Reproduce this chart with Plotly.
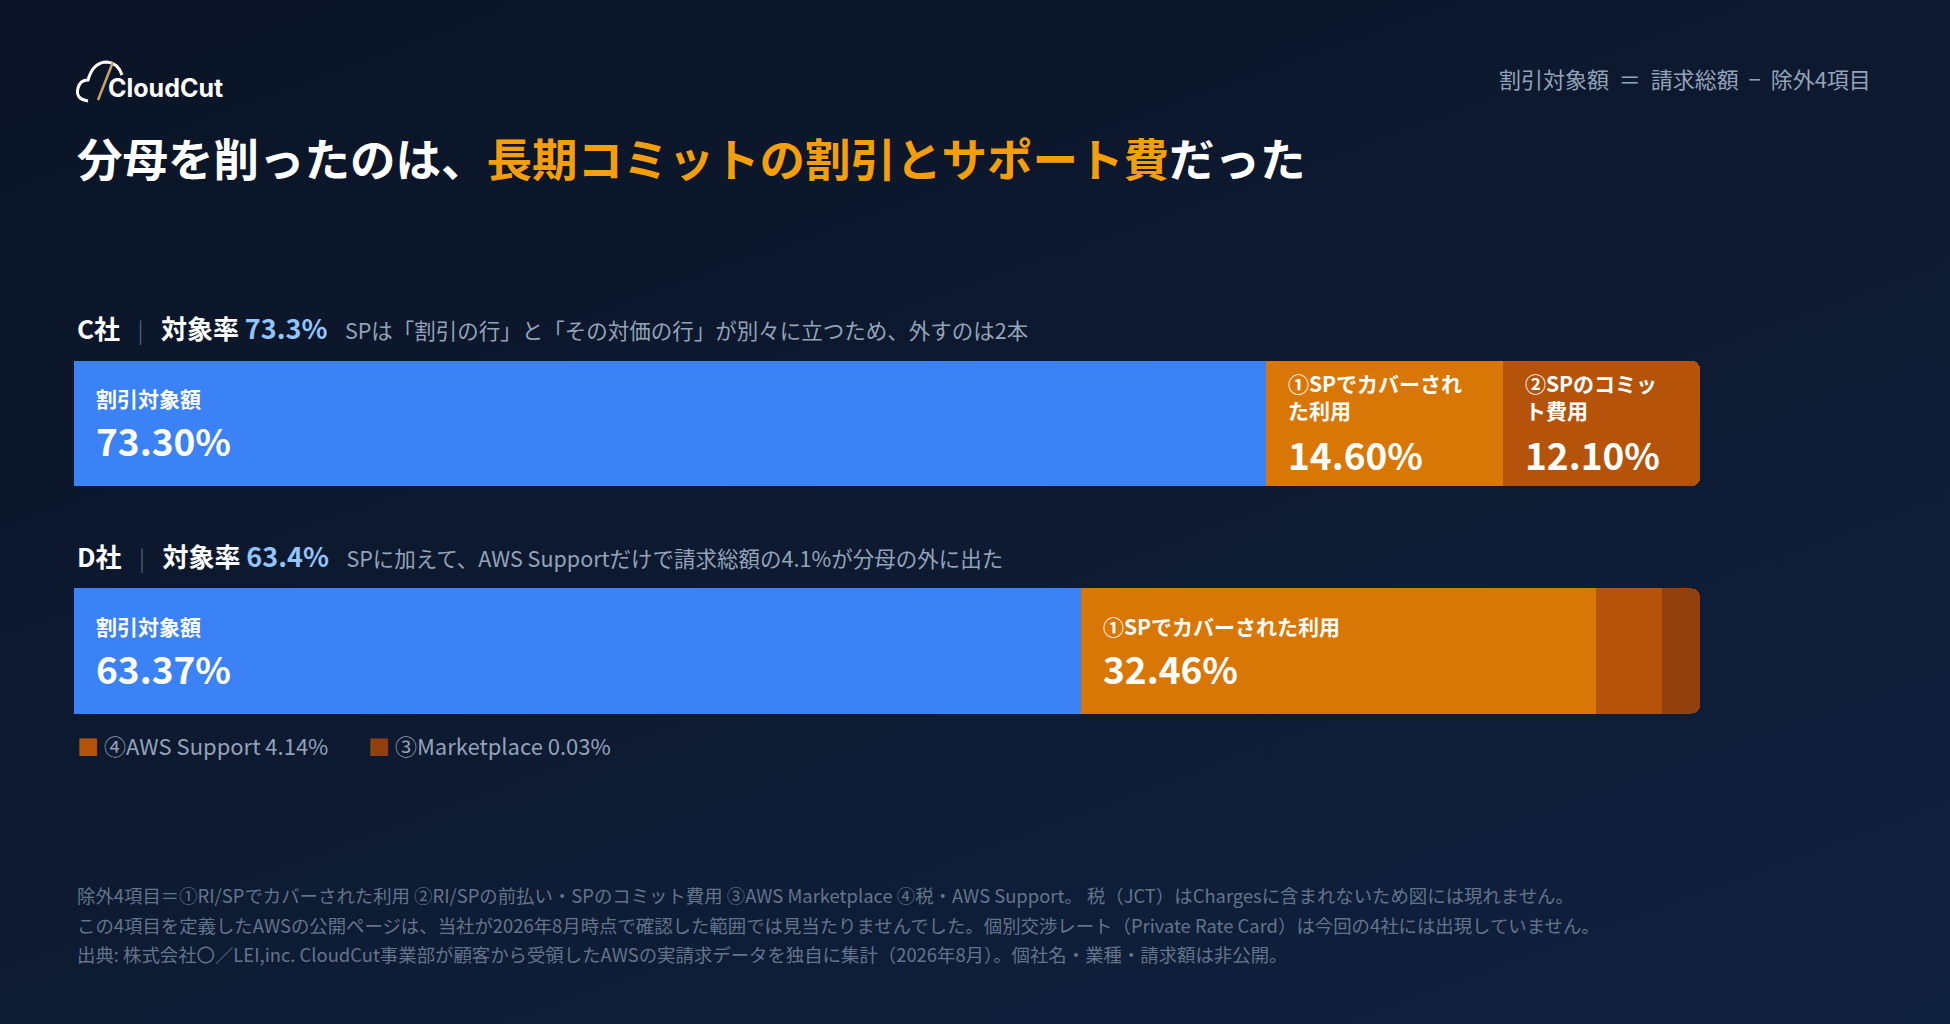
import numpy as np
import plotly.graph_objects as go

W, H = 1950, 1024

# データ
companies = ["C社", "D社"]
target_rate = [73.3, 63.4]
notes = [
    "SPは「割引の行」と「その対価の行」が別々に立つため、外すのは2本",
    "SPに加えて、AWS Supportだけで請求総額の4.1%が分母の外に出た",
]
c_labels = ["割引対象額", "①SPでカバーされ<br>た利用", "②SPのコミッ<br>ト費用"]
c_values = [73.30, 14.60, 12.10]
d_labels = ["割引対象額", "①SPでカバーされた利用", "④AWS Support", "③Marketplace"]
d_values = [63.37, 32.46, 4.14, 0.03]
legend_names = ["④AWS Support", "③Marketplace"]
legend_values = [4.14, 0.03]

seg_colors = ["#3b82f6", "#d97706", "#b45309", "#92400e"]
FONT = "Noto Sans CJK JP"

footnotes = [
    "除外4項目＝①RI/SPでカバーされた利用 ②RI/SPの前払い・SPのコミット費用 ③AWS Marketplace ④税・AWS Support。 税（JCT）はChargesに含まれないため図には現れません。",
    "この4項目を定義したAWSの公開ページは、当社が2026年8月時点で確認した範囲では見当たりませんでした。個別交渉レート（Private Rate Card）は今回の4社には出現していません。",
    "出典: 株式会社〇／LEI,inc. CloudCut事業部が顧客から受領したAWSの実請求データを独自に集計（2026年8月）。個社名・業種・請求額は非公開。",
]


def px(x, y):
    return x / W, 1 - y / H


def display_widths(vals, min_share=2.4):
    # 極小セグメントにも最小幅を持たせる（CSSのmin-width相当）
    v = np.maximum(np.array(vals, dtype=float), min_share)
    return v / v.sum() * 100


fig = go.Figure()

rows = [(c_labels, c_values), (d_labels, d_values)]
annotations = []
for row, (labels, vals) in enumerate(rows):
    widths = display_widths(vals)
    starts = np.concatenate([[0], np.cumsum(widths)[:-1]])
    for i, (lab, v, w, s) in enumerate(zip(labels, vals, widths, starts)):
        fig.add_trace(go.Bar(
            x=[w], y=[row], orientation="h", width=0.55,
            marker=dict(color=seg_colors[i], line=dict(width=0)),
            showlegend=False, hoverinfo="skip",
        ))
        if v < 10:
            continue
        two_line = "<br>" in lab
        annotations.append(dict(
            x=s, y=row, xref="x", yref="y", xanchor="left", yanchor="middle",
            xshift=20, yshift=27 if two_line else 25.5, align="left",
            text=f"<b>{lab}</b>", showarrow=False,
            font=dict(family=FONT, size=21, color="white"),
        ))
        annotations.append(dict(
            x=s, y=row, xref="x", yref="y", xanchor="left", yanchor="middle",
            xshift=20, yshift=-30.5 if two_line else -16.5,
            text=f"<b>{v:.2f}%</b>", showarrow=False,
            font=dict(family=FONT, size=37, color="white"),
        ))

# 各社の見出し
for row, (name, rate, note) in enumerate(zip(companies, target_rate, notes)):
    hx, hy = px(75, 327 + row * 228)
    annotations.append(dict(
        x=hx, y=hy, xref="paper", yref="paper", xanchor="left", yanchor="middle",
        showarrow=False, font=dict(family=FONT, size=26, color="white"),
        text=(f"<b>{name}</b>   <span style='color:#4b5a70;font-size:22px'>|</span>   "
              f"<b>対象率</b> <span style='color:#93c5fd;font-size:27px'><b>{rate:.1f}%</b></span>"
              f"   <span style='color:#94a3b8;font-size:21.5px'>{note}</span>"),
    ))

# 凡例（D社の小さいセグメント）
lx = [75, 366]
for i, (nm, v) in enumerate(zip(legend_names, legend_values)):
    x, y = px(lx[i], 745)
    annotations.append(dict(
        x=x, y=y, xref="paper", yref="paper", xanchor="left", yanchor="middle",
        showarrow=False, font=dict(family=FONT, size=22, color="#94a3b8"),
        text=f"<span style='color:{seg_colors[i + 2]}'>■</span> {nm} {v:.2f}%",
    ))

# タイトル
tx, ty = px(75, 157)
annotations.append(dict(
    x=tx, y=ty, xref="paper", yref="paper", xanchor="left", yanchor="middle",
    showarrow=False, font=dict(family=FONT, size=45.5, color="white"),
    text="<b>分母を削ったのは、<span style='color:#f59e0b'>長期コミットの割引とサポート費</span>だった</b>",
))

# 右上の式
rx, ry = px(1873, 78)
annotations.append(dict(
    x=rx, y=ry, xref="paper", yref="paper", xanchor="right", yanchor="middle",
    showarrow=False, font=dict(family=FONT, size=22, color="#94a3b8"),
    text="割引対象額  ＝  請求総額  −  除外4項目",
))

# ロゴ
gx, gy = px(106, 88)
annotations.append(dict(
    x=gx, y=gy, xref="paper", yref="paper", xanchor="left", yanchor="middle",
    showarrow=False, font=dict(family="Inter", size=25, color="white"),
    text="<b>CloudCut</b>",
))

# 脚注
for k, line in enumerate(footnotes):
    fx, fy = px(75, 895 + k * 29.5)
    annotations.append(dict(
        x=fx, y=fy, xref="paper", yref="paper", xanchor="left", yanchor="middle",
        showarrow=False, font=dict(family=FONT, size=18.4, color="#64748b"),
        text=line,
    ))


def path(points):
    out = []
    for cmd, pts in points:
        coords = " ".join(f"{px(x, y)[0]:.5f},{px(x, y)[1]:.5f}" for x, y in pts)
        out.append(f"{cmd} {coords}")
    return " ".join(out)


cloud = path([("M", [(88, 101)]), ("Q", [(75, 99), (78, 88)]), ("Q", [(80, 80), (88, 80)]),
              ("Q", [(93, 62), (107, 62)]), ("Q", [(118, 63), (122, 75)])])
slash = path([("M", [(98, 100)]), ("L", [(113, 62)])])

fig.update_layout(
    width=W, height=H,
    margin=dict(l=0, r=0, t=0, b=0),
    paper_bgcolor="rgba(0,0,0,0)", plot_bgcolor="rgba(0,0,0,0)",
    barmode="stack", barcornerradius=8,
    xaxis=dict(domain=[74 / W, 1700 / W], range=[0, 100], visible=False, fixedrange=True),
    yaxis=dict(domain=[1 - 764.75 / H, 1 - 309.75 / H], range=[1.5, -0.5],
               visible=False, fixedrange=True),
    annotations=annotations,
    shapes=[
        dict(type="path", xref="paper", yref="paper", path=cloud,
             line=dict(color="white", width=3)),
        dict(type="path", xref="paper", yref="paper", path=slash,
             line=dict(color="#c9a36b", width=2.5)),
    ],
    showlegend=False,
)

page_js = (
    "document.body.style.margin='0';"
    "document.body.style.overflow='hidden';"
    "document.body.style.background='linear-gradient(160deg, #0b1426 0%, #0d1a31 50%, #10213f 100%)';"
)
fig.write_html("out.html", post_script=page_js, config={"displayModeBar": False})
